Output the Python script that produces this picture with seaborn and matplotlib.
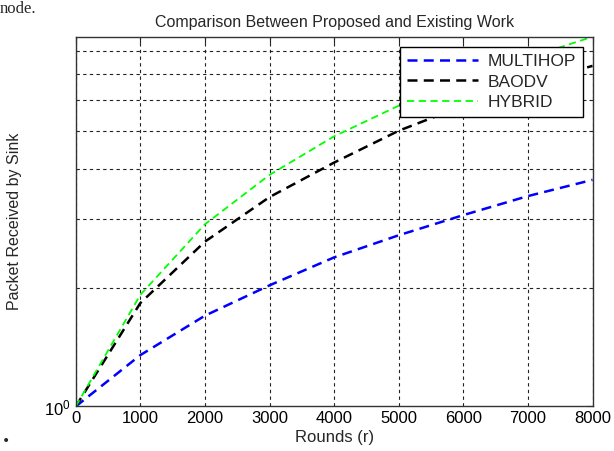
import numpy as np
import pandas as pd
import matplotlib
matplotlib.use("Agg")
import matplotlib.pyplot as plt
import seaborn as sns
from matplotlib.ticker import LogLocator, NullFormatter

# values (log y axis)
rounds = [0, 1000, 2000, 3000, 4000, 5000, 6000, 7000, 8000]
multihop = [1, 1.35, 1.70, 2.03, 2.39, 2.72, 3.06, 3.42, 3.76]
baodv = [1, 1.83, 2.62, 3.40, 4.16, 5.01, 5.80, 6.58, 7.32]
hybrid = [1, 1.92, 2.90, 3.87, 4.85, 5.80, 6.76, 7.67, 8.68]
labels = ["MULTIHOP", "BAODV", "HYBRID"]
colors = ["#0000ff", "#000000", "#00ff00"]
widths = [1.8, 1.8, 1.3]

sns.set_style("white")
plt.rcParams['font.family'] = ['Liberation Sans', 'DejaVu Sans']

fig = plt.figure(figsize=(6.14, 4.51), dpi=100)
ax = fig.add_axes([0.1233, 0.0987, 0.8417, 0.8199])

for lab, vals, c, lw in zip(labels, [multihop, baodv, hybrid], colors, widths):
    df = pd.DataFrame({"Rounds": rounds, "Packets": vals})
    sns.lineplot(data=df, x="Rounds", y="Packets", ax=ax, color=c,
                 linewidth=lw, label=lab, dashes=False)
    ax.lines[-1].set_dashes([4, 2.5])

ax.set_yscale("log")
ax.set_xlim(0, 8000)
ax.set_ylim(1, 8.68)
ax.set_xticks(rounds)
ax.yaxis.set_major_locator(LogLocator(base=10))
ax.yaxis.set_minor_locator(LogLocator(base=10, subs=np.arange(2, 10)))
ax.yaxis.set_minor_formatter(NullFormatter())

ax.grid(True, which="major", axis="x", color="#222222", linestyle=(0, (3, 3)), linewidth=0.8)
ax.grid(True, which="minor", axis="y", color="#222222", linestyle=(0, (3, 3)), linewidth=0.8)

ax.tick_params(axis="both", which="both", direction="in", top=True, right=True,
               labelsize=12, colors="#222222", labelcolor="black")
ax.tick_params(which="major", length=4)
ax.tick_params(which="minor", length=3)
ax.tick_params(axis="x", pad=3)
for s in ax.spines.values():
    s.set_color("#333333")
    s.set_linewidth(1.0)

ax.set_xlabel("Rounds (r)", fontsize=12, labelpad=3)
ax.set_ylabel("Packet Received by Sink", fontsize=11.5, labelpad=16)
ax.set_title("Comparison Between Proposed and Existing Work", fontsize=11.5, pad=7)

leg = ax.legend(loc="upper right", bbox_to_anchor=(0.9816, 0.972), borderaxespad=0,
                fontsize=12.5, handlelength=4.1, frameon=True, fancybox=False,
                framealpha=1, borderpad=0.4, labelspacing=0.3, handletextpad=0.55)
leg.get_frame().set_edgecolor("black")
leg.get_frame().set_linewidth(1.0)

# fragments of the surrounding document
fig.text(0.0, 0.998, "node.", fontsize=12, family="Liberation Serif", va="top", ha="left")
fig.text(0.004, 0.02, ".", fontsize=18, family="Liberation Serif", weight="bold")

fig.savefig("out.png", dpi=100)
